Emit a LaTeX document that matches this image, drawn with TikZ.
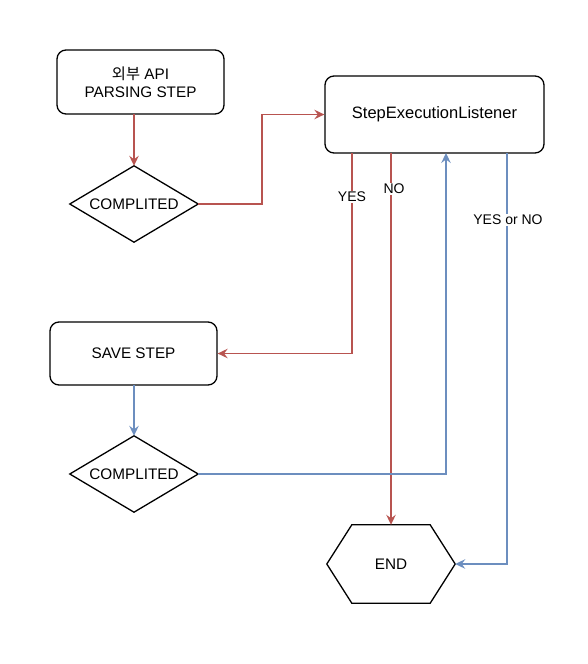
\documentclass[tikz,border=0pt]{standalone}
\usepackage{fontspec}
\setmainfont{Liberation Sans}
\newfontfamily\krfont{Noto Sans CJK KR}
\usetikzlibrary{arrows.meta}
\definecolor{redl}{HTML}{B85450}
\definecolor{bluel}{HTML}{6C8EBF}
\tikzset{
  every node/.style={font=\fontsize{15.3}{18.5}\selectfont, text=black},
  rbox/.style={draw=black, line width=1.3pt, rounded corners=9pt, inner sep=0pt, align=center},
  dia/.style={inner sep=0pt, minimum width=128pt, minimum height=76pt},
  outline/.style={line width=1.3pt, line join=miter},
  con/.style={line width=1.4pt, -{Stealth[length=10pt,width=9.5pt,inset=3.5pt]}},
  redc/.style={con, draw=redl, color=redl},
  bluec/.style={con, draw=bluel, color=bluel},
  lbl/.style={fill=white, inner sep=1pt, font=\fontsize{14}{16}\selectfont}
}
\begin{document}
\begin{tikzpicture}[x=1pt,y=-1pt]
\useasboundingbox (0,0) rectangle (588,664);
\node[rbox, minimum width=167pt, minimum height=64pt] (api) at (140.5,82) {{\krfont 외부} API\\PARSING STEP};
\node[dia] (d1) at (134,204) {COMPLITED};
\draw[outline] (d1.north) -- (d1.east) -- (d1.south) -- (d1.west) -- cycle;
\node[rbox, minimum width=219pt, minimum height=77pt, font=\fontsize{16.5}{19}\selectfont] (lis) at (434.5,114.5) {StepExecutionListener};
\node[rbox, minimum width=167pt, minimum height=63pt] (save) at (133.5,353.5) {SAVE STEP};
\node[dia] (d2) at (134,474) {COMPLITED};
\draw[outline] (d2.north) -- (d2.east) -- (d2.south) -- (d2.west) -- cycle;
\node[minimum width=128pt, minimum height=78pt, inner sep=0pt] (end) at (391,564) {END};
\draw[outline] ([xshift=25pt]end.north west) -- ([xshift=-25pt]end.north east) -- (end.east) -- ([xshift=-25pt]end.south east) -- ([xshift=25pt]end.south west) -- (end.west) -- cycle;

\coordinate (apib) at (134,114);
\draw[redc] (apib) -- (d1.north);
\draw[redc] (d1.east) -- (262,204) -- (262,114.5) -- (lis.west);
\coordinate (yes0) at (352,153);
\draw[redc] (yes0) -- (352,353.5) -- (save.east);
\coordinate (no0) at (391,153);
\draw[redc] (no0) -- (end.north);
\coordinate (saveb) at (134,385);
\draw[bluec] (saveb) -- (d2.north);
\coordinate (blin) at (446,153);
\draw[bluec] (d2.east) -- (446,474) -- (blin);
\coordinate (bout) at (507,153);
\draw[bluec] (bout) -- (507,564) -- (end.east);
\node[lbl] (lyes) at (352,197) {YES};
\node[lbl] (lno) at (394,189) {NO};
\node[lbl] (lyn) at (508,220) {YES or NO};
\end{tikzpicture}
\end{document}
